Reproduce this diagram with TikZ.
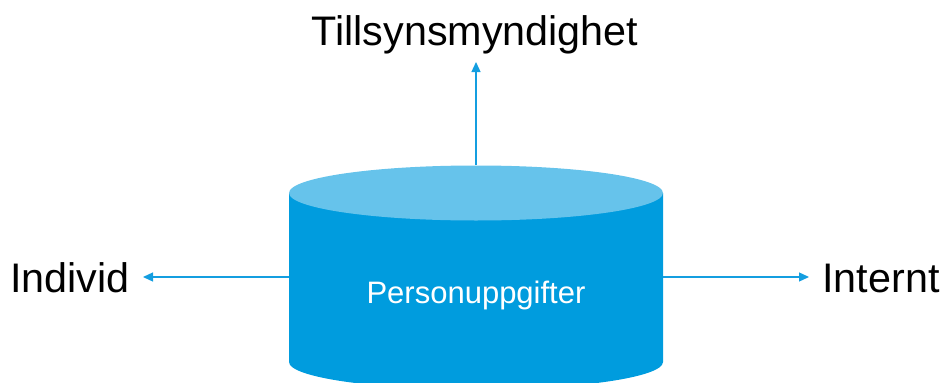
\documentclass[tikz,border=0pt]{standalone}
\usepackage{fontspec}
\setmainfont{Liberation Sans}
\usetikzlibrary{arrows.meta}
\definecolor{body}{RGB}{0,156,222}
\definecolor{topc}{RGB}{102,195,235}
\definecolor{arrc}{RGB}{20,158,224}
\begin{document}
\begin{tikzpicture}[x=1pt,y=-1pt,
  lbl/.style={inner sep=0pt, anchor=base, font=\fontsize{41.3}{45}\selectfont, text=black},
  arr/.style={draw=arrc, line width=1.3pt, -{Triangle[length=10pt,width=9pt]}}]
\useasboundingbox (0,0) rectangle (943,383);
\clip (0,0) rectangle (943,383);
% cylinder
\fill[body] (289,193) -- (289,362) arc[start angle=180, end angle=360, x radius=187, y radius=-27.5] -- (663,193) -- cycle;
\fill[topc] (476,193) ellipse[x radius=187, y radius=27.5];
\node[inner sep=0pt, anchor=base, text=white, font=\fontsize{31}{34}\selectfont] (db) at (476,303) {Personuppgifter};
\coordinate (dbT) at (476,165);
\coordinate (dbL) at (289,277);
\coordinate (dbR) at (663,277);
% labels
\node[lbl] (till) at (475,45) {Tillsynsmyndighet};
\node[lbl] (ind) at (70,292) {Individ};
\node[lbl] (int) at (881,292) {Internt};
\coordinate (tipT) at (476,62);
\coordinate (tipL) at (143,277);
\coordinate (tipR) at (809,277);
\draw[arr] (dbT) -- (tipT);
\draw[arr] (dbL) -- (tipL);
\draw[arr] (dbR) -- (tipR);
\end{tikzpicture}
\end{document}
